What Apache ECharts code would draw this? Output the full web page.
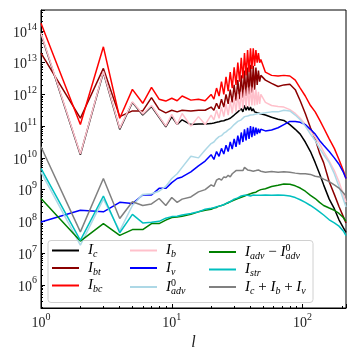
<!DOCTYPE html>
<html lang="en">
<head>
    <meta charset="UTF-8">
    <title>energy transfer spectra</title>
    <script src="https://cdn.jsdelivr.net/npm/echarts@6/dist/echarts.min.js"></script>
    <style>
        html, body { margin: 0; padding: 0; background: #fff; }
    </style>
</head>
<body>
    <div id="main" style="width: 357px;height:357px;"></div>
    <script>
        // multipole degree l (shared by all curves)
        const L = [1, 2, 3, 4, 5, 6, 7, 8, 9, 10, 11, 12, 14, 16, 18,
            20, 21, 22, 23, 24, 25, 26, 27, 28, 29, 30, 31, 32, 33, 34, 35, 36, 37, 38, 39, 40, 41, 42, 43, 44, 45, 46, 47, 48,
            52, 58, 65, 72, 80, 88, 96, 105, 115, 125, 135, 145, 160, 175, 190, 205, 215];

        // values, as log10 of the value
        const Ic = [13.9, 10.1, 12.7, 10.9, 11.75, 11.35, 11.62, 11.28, 10.98, 11.3, 11.05, 11.2, 11.05, 11.07, 11.07,
            11.08, 11.1, 11.12, 11.14, 11.16, 11.17, 11.2, 11.22, 11.25, 11.27, 11.35, 11.3, 11.45, 11.4, 11.55, 11.45, 11.65, 11.5, 11.62, 11.5, 11.6, 11.48, 11.55, 11.45, 11.5, 11.42, 11.45, 11.4, 11.4,
            11.35, 11.28, 11.22, 11.18, 11.05, 10.9, 10.75, 10.5, 10.2, 9.85, 9.5, 9.15, 8.7, 8.4, 8.05, 7.8, 7.65];
        const Ibt = [13.3, 11.25, 12.82, 11.3, 11.48, 11.48, 11.9, 11.53, 11.42, 11.5, 11.45, 11.5, 11.48, 11.5, 11.5,
            11.6, 11.5, 11.72, 11.55, 11.85, 11.6, 12.0, 11.7, 12.15, 11.75, 12.3, 11.8, 12.45, 11.85, 12.6, 11.9, 12.75, 11.95, 12.85, 12.0, 12.93, 12.05, 12.9, 12.15, 12.85, 12.3, 12.75, 12.4, 12.6,
            12.45, 12.35, 12.25, 12.3, 12.32, 12.15, 11.8, 11.4, 10.95, 10.6, 10.15, 9.85, 9.25, 8.85, 8.47, 8.15, 7.95];
        const Ibc = [14.24, 11.05, 13.5, 11.25, 12.16, 11.72, 12.22, 11.85, 11.79, 11.88, 11.8, 11.95, 11.82, 11.85, 11.8,
            12.0, 11.85, 12.2, 11.95, 12.4, 12.0, 12.55, 12.1, 12.7, 12.2, 12.85, 12.3, 13.0, 12.4, 13.15, 12.5, 13.3, 12.6, 13.4, 12.7, 13.45, 12.8, 13.45, 12.9, 13.4, 13.0, 13.3, 13.0, 13.1,
            12.7, 12.6, 12.58, 12.6, 12.58, 12.45, 12.2, 11.95, 11.65, 11.45, 11.2, 10.95, 10.6, 10.3, 9.95, 9.6, 9.35];
        const Ib = [13.93, 10.12, 12.72, 10.93, 11.77, 11.38, 11.65, 11.3, 11.0, 11.37, 11.05, 11.4, 11.0, 11.3, 11.05,
            11.35, 11.2, 11.5, 11.25, 11.6, 11.3, 11.7, 11.35, 11.8, 11.4, 11.9, 11.45, 12.0, 11.5, 12.08, 11.55, 12.15, 11.6, 12.22, 11.62, 12.25, 11.65, 12.22, 11.65, 12.15, 11.68, 12.08, 11.7, 12.0,
            11.75, 11.65, 11.62, 11.6, 11.52, 11.4, 11.25, 11.05, 10.85, 10.65, 10.45, 10.2, 9.9, 9.6, 9.25, 8.85, 8.6];
        const Iv = [7.98, 8.35, 8.3, 8.6, 8.56, 8.83, 8.83, 9.04, 9.04, 9.22, 9.35, 9.4, 9.56, 9.75, 9.9,
            10.1, 9.95, 10.2, 10.05, 10.3, 10.12, 10.4, 10.2, 10.5, 10.28, 10.6, 10.35, 10.7, 10.42, 10.8, 10.5, 10.9, 10.55, 10.95, 10.6, 11.0, 10.65, 10.98, 10.7, 10.95, 10.75, 10.92, 10.78, 10.9,
            10.85, 10.88, 10.95, 11.05, 11.15, 11.15, 11.12, 11.05, 10.9, 10.75, 10.55, 10.4, 10.2, 10.0, 9.8, 9.55, 9.35];
        const Iadv0 = [9.55, 7.25, 8.7, 7.7, 8.5, 8.85, 8.87, 8.95, 9.1, 9.35, 9.5, 9.7, 10.05, 10.0, 10.25,
            10.45, 10.5, 10.6, 10.67, 10.7, 10.78, 10.82, 10.88, 10.92, 10.95, 11.05, 11.1, 11.15, 11.19, 11.2, 11.25, 11.3, 11.28, 11.32, 11.3, 11.35, 11.33, 11.36, 11.35, 11.38, 11.36, 11.4, 11.38, 11.4,
            11.42, 11.45, 11.45, 11.5, 11.48, 11.35, 11.2, 11.0, 10.75, 10.55, 10.3, 10.1, 9.85, 9.5, 9.1, 8.7, 8.45];
        const IadvDiff = [8.72, 7.38, 7.93, 7.56, 7.74, 7.74, 7.93, 7.93, 8.04, 8.12, 8.14, 8.16, 8.22, 8.3, 8.35,
            8.38, 8.42, 8.44, 8.48, 8.5, 8.52, 8.56, 8.58, 8.62, 8.64, 8.67, 8.7, 8.72, 8.74, 8.76, 8.78, 8.8, 8.82, 8.84, 8.85, 8.87, 8.88, 8.9, 8.9, 8.92, 8.95, 8.97, 8.98, 9.0,
            9.03, 9.1, 9.14, 9.18, 9.17, 9.12, 9.05, 8.95, 8.82, 8.72, 8.6, 8.5, 8.42, 8.35, 8.25, 8.12, 8.0];
        const Istr = [9.67, 7.4, 8.8, 7.64, 8.22, 7.95, 7.97, 8.0, 8.1, 8.15, 8.16, 8.2, 8.25, 8.3, 8.38,
            8.41, 8.43, 8.46, 8.48, 8.5, 8.53, 8.56, 8.6, 8.62, 8.64, 8.7, 8.72, 8.74, 8.78, 8.8, 8.8, 8.82, 8.8, 8.82, 8.83, 8.8, 8.82, 8.83, 8.81, 8.82, 8.83, 8.82, 8.81, 8.82,
            8.83, 8.82, 8.83, 8.82, 8.8, 8.75, 8.68, 8.6, 8.5, 8.4, 8.3, 8.2, 8.05, 7.95, 7.85, 7.7, 7.55];
        const Isum = [10.35, 7.67, 9.35, 8.09, 8.62, 8.5, 8.55, 8.72, 8.5, 8.75, 8.6, 8.7, 8.77, 8.93, 9.0,
            9.15, 9.1, 9.3, 9.35, 9.3, 9.4, 9.38, 9.45, 9.4, 9.5, 9.55, 9.6, 9.55, 9.6, 9.65, 9.6, 9.7, 9.65, 9.62, 9.68, 9.6, 9.65, 9.58, 9.62, 9.6, 9.58, 9.62, 9.6, 9.58,
            9.55, 9.57, 9.55, 9.56, 9.55, 9.52, 9.5, 9.5, 9.48, 9.42, 9.4, 9.33, 9.25, 9.15, 9.05, 8.9, 8.8];

        const curves = [
            { name: 'Ic', color: '#000000', exp: Ic },
            { name: 'Ibt', color: '#8b0000', exp: Ibt },
            { name: 'Ibc', color: '#ff0000', exp: Ibc },
            { name: 'Ib', color: '#ffc0cb', exp: Ib },
            { name: 'Iv', color: '#0000ff', exp: Iv },
            { name: 'Iadv0', color: '#add8e6', exp: Iadv0 },
            { name: 'IadvDiff', color: '#008000', exp: IadvDiff },
            { name: 'Istr', color: '#00bfbf', exp: Istr },
            { name: 'Isum', color: '#808080', exp: Isum }
        ];

        // legend labels as rich text (subscripts / superscripts)
        const labels = {
            Ic: '{i|I}{s|c}',
            Ibt: '{i|I}{s|bt}',
            Ibc: '{i|I}{s|bc}',
            Ib: '{i|I}{s|b}',
            Iv: '{i|I}{s|v}',
            Iadv0: '{i|I}{z|0}{s|adv}',
            IadvDiff: '{i|I}{s|adv}{r| − }{i|I}{z|0}{s|adv}',
            Istr: '{i|I}{s|str}',
            Isum: '{i|I}{s|c}{r| + }{i|I}{s|b}{r| + }{i|I}{s|v}'
        };

        const serif = 'Liberation Serif';
        const rich = {
            i: { fontFamily: serif, fontStyle: 'italic', fontSize: 15, lineHeight: 18, verticalAlign: 'middle', color: '#000' },
            r: { fontFamily: serif, fontSize: 15, lineHeight: 18, verticalAlign: 'middle', color: '#000' },
            s: { fontFamily: serif, fontStyle: 'italic', fontSize: 10, lineHeight: 10, verticalAlign: 'bottom', color: '#000' },
            z: { fontFamily: serif, fontSize: 10, lineHeight: 10, verticalAlign: 'top', width: 0, align: 'left', color: '#000' }
        };

        const axisRich = {
            b: { fontFamily: serif, fontSize: 14, lineHeight: 18, verticalAlign: 'bottom', color: '#222' },
            e: { fontFamily: serif, fontSize: 10, lineHeight: 18, verticalAlign: 'top', color: '#222', padding: [0, 0, 6, 0] }
        };

        function powLabel(v) {
            const n = Math.round(Math.log10(v));
            return '{b|10}{e|' + n + '}';
        }

        function makeLegend(names, left) {
            return {
                orient: 'vertical',
                left: left,
                top: 243,
                padding: 0,
                itemGap: 1,
                itemWidth: 27,
                itemHeight: 2,
                icon: 'rect',
                selectedMode: false,
                data: names,
                formatter: n => labels[n],
                textStyle: { rich: rich, padding: [0, 0, 0, 4] }
            };
        }

        const chart = echarts.init(document.getElementById('main'));

        const option = {
            animation: false,
            grid: {
                left: 41, top: 10, right: 11, bottom: 49,
                show: true, borderColor: '#000', borderWidth: 1
            },
            xAxis: {
                type: 'log',
                logBase: 10,
                min: 1,
                max: 215,
                name: 'l',
                nameLocation: 'middle',
                nameGap: 21,
                nameTextStyle: { fontFamily: serif, fontStyle: 'italic', fontSize: 16, color: '#222' },
                axisLine: { lineStyle: { color: '#000' } },
                axisTick: { inside: true, length: 4, lineStyle: { color: '#000' } },
                minorTick: { show: true, splitNumber: 9, length: 2, lineStyle: { color: '#000' } },
                splitLine: { show: false },
                axisLabel: { formatter: powLabel, rich: axisRich, showMinLabel: true, showMaxLabel: false, margin: 4 }
            },
            yAxis: {
                type: 'log',
                logBase: 10,
                min: Math.pow(10, 5.27),
                max: Math.pow(10, 14.66),
                splitNumber: 10,
                axisLine: { show: true, lineStyle: { color: '#000' } },
                axisTick: { show: true, inside: true, length: 4, lineStyle: { color: '#000' } },
                minorTick: { show: true, splitNumber: 9, length: 2, lineStyle: { color: '#000' } },
                splitLine: { show: false },
                axisLabel: { formatter: powLabel, rich: axisRich, showMinLabel: false, showMaxLabel: false, margin: 4 }
            },
            legend: [
                makeLegend(['Ic', 'Ibt', 'Ibc'], 52),
                makeLegend(['Ib', 'Iv', 'Iadv0'], 130),
                makeLegend(['IadvDiff', 'Istr', 'Isum'], 209)
            ],
            graphic: [{
                type: 'rect',
                shape: { x: 48, y: 240.5, width: 265, height: 62, r: 3 },
                style: { fill: 'rgba(255,255,255,0.8)', stroke: '#d0d0d0', lineWidth: 1 },
                z: 3
            }],
            series: curves.map(c => ({
                name: c.name,
                type: 'line',
                showSymbol: false,
                symbol: 'none',
                color: c.color,
                lineStyle: { width: 1.5, color: c.color },
                data: L.map((l, i) => [l, Math.pow(10, c.exp[i])])
            }))
        };

        chart.setOption(option);
    </script>
</body>
</html>
